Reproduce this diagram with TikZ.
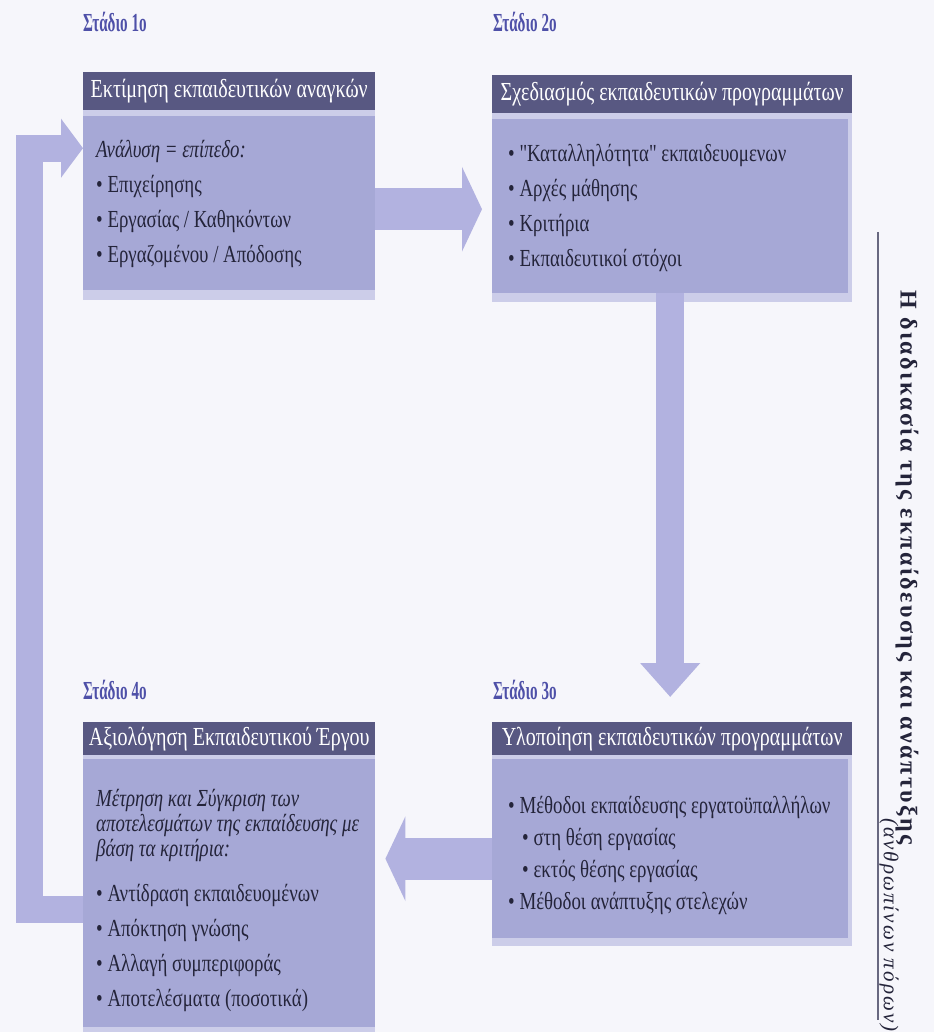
\documentclass[tikz,border=0pt]{standalone}
\usepackage{fontspec}
\setmainfont{Liberation Serif}[FakeStretch=0.77]
\newfontfamily\stagefont{Liberation Serif}[FakeStretch=0.58]
\newfontfamily\sidefont{Liberation Serif}[LetterSpace=10]
\usetikzlibrary{arrows.meta}

\definecolor{pagebg}{RGB}{246,246,251}
\definecolor{headfill}{RGB}{88,88,130}
\definecolor{bodyfill}{RGB}{166,168,214}
\definecolor{bodylow}{RGB}{204,205,233}
\definecolor{arrowfill}{RGB}{178,178,224}
\definecolor{stagecol}{RGB}{78,80,168}
\definecolor{textcol}{RGB}{36,36,58}
\definecolor{rulecol}{RGB}{104,104,128}

% straight double quote, without the TeX quote ligature
\newcommand{\straightquote}{{\addfontfeatures{Ligatures=TeXOff}"}}

\begin{document}
\begin{tikzpicture}[x=1pt,y=-1pt,
  stagelabel/.style={anchor=west, inner sep=0pt, text=stagecol,
    font=\stagefont\bfseries\fontsize{26}{26}\selectfont},
  headbox/.style={fill=headfill, text=white, anchor=north west, inner sep=0pt,
    font=\fontsize{26}{26}\selectfont},
  bodybox/.style={fill=bodyfill, anchor=north west, inner sep=0pt},
  bodytext/.style={anchor=north west, inner sep=0pt, text=textcol, align=left,
    font=\fontsize{24.5}{35}\selectfont},
  blockarrow/.style={draw=arrowfill, line width=42pt,
    -{Triangle[length=20pt,width=84pt]}},
  downarrow/.style={draw=arrowfill, line width=28pt,
    -{Triangle[length=34pt,width=58pt]}},
  looparrow/.style={draw=arrowfill, line width=27pt, line join=miter,
    -{Triangle[length=22pt,width=58pt]}},
]
\useasboundingbox (0,0) rectangle (934,1032);
\fill[pagebg] (0,0) rectangle (934,1032);

% ---------- stage 1 ----------
\node[stagelabel] (s1) at (83,22) {Στάδιο 1ο};
\fill[bodylow] (83,72) rectangle (375,300);
\node[headbox, minimum width=292pt, minimum height=38pt] (h1) at (83,72)
  {Εκτίμηση εκπαιδευτικών αναγκών};
\node[bodybox, minimum width=292pt, minimum height=174pt] (b1) at (83,116) {};
\node[bodytext] (t1) at (96,140)
  {\textit{Ανάλυση = επίπεδο:}\\
   • Επιχείρησης\\
   • Εργασίας / Καθηκόντων\\
   • Εργαζομένου / Απόδοσης};

% ---------- stage 2 ----------
\node[stagelabel] (s2) at (493,22) {Στάδιο 2ο};
\fill[bodylow] (492,75) rectangle (852,302);
\node[headbox, minimum width=360pt, minimum height=38pt] (h2) at (492,75)
  {Σχεδιασμός εκπαιδευτικών προγραμμάτων};
\node[bodybox, minimum width=356pt, minimum height=174pt] (b2) at (492,119) {};
\node[bodytext] (t2) at (508,144)
  {• \straightquote Καταλληλότητα\straightquote{} εκπαιδευομενων\\
   • Αρχές μάθησης\\
   • Κριτήρια\\
   • Εκπαιδευτικοί στόχοι};

% ---------- stage 3 ----------
\node[stagelabel] (s3) at (493,690) {Στάδιο 3ο};
\fill[bodylow] (492,722) rectangle (852,946);
\node[headbox, minimum width=360pt, minimum height=33pt] (h3) at (492,722)
  {Υλοποίηση εκπαιδευτικών προγραμμάτων};
\node[bodybox, minimum width=356pt, minimum height=179pt] (b3) at (492,759) {};
\node[bodytext, font=\fontsize{24.5}{32}\selectfont] (t3) at (508,796)
  {• Μέθοδοι εκπαίδευσης εργατοϋπαλλήλων\\
   \hspace*{14pt}• στη θέση εργασίας\\
   \hspace*{14pt}• εκτός θέσης εργασίας\\
   • Μέθοδοι ανάπτυξης στελεχών};

% ---------- stage 4 ----------
\node[stagelabel] (s4) at (83,690) {Στάδιο 4ο};
\fill[bodylow] (83,722) rectangle (375,1032);
\node[headbox, minimum width=292pt, minimum height=33pt] (h4) at (83,722)
  {Αξιολόγηση Εκπαιδευτικού Έργου};
\node[bodybox, minimum width=292pt, minimum height=268pt] (b4) at (83,759) {};
\node[bodytext, font=\fontsize{24.5}{25}\selectfont] (t4a) at (96,789)
  {\textit{Μέτρηση και Σύγκριση των}\\
   \textit{αποτελεσμάτων της εκπαίδευσης με}\\
   \textit{βάση τα κριτήρια:}};
\node[bodytext] (t4b) at (96,884)
  {• Αντίδραση εκπαιδευομένων\\
   • Απόκτηση γνώσης\\
   • Αλλαγή συμπεριφοράς\\
   • Αποτελέσματα (ποσοτικά)};

% ---------- flow arrows ----------
\draw[blockarrow, shorten >=10pt] ([yshift=-6pt]b1.east) -- ([yshift=-6pt]b1.east -| b2.west);
\draw[downarrow, shorten >=25pt] (b2.south) -- (b2.south |- h3.north);
\draw[blockarrow, shorten >=10pt] ([yshift=-10pt]b3.west) -- ([yshift=-10pt]b3.west -| b4.east);

% feedback loop from stage 4 back to stage 1
\coordinate (fbstart) at ([yshift=-16pt]b4.west);
\coordinate (fbend) at ([yshift=55pt]b1.west);
\coordinate (fbside) at (29,0);
\draw[looparrow] (fbstart) -- (fbstart -| fbside) -- (fbend -| fbside) -- (fbend);

% ---------- side title ----------
\coordinate (ruletop) at (878,232);
\coordinate (rulebot) at (878,1020);
\draw[rulecol, line width=2.5pt] (ruletop) -- (rulebot);
\node[rotate=-90, anchor=west, inner sep=0pt, text=textcol,
      font=\sidefont\bfseries\fontsize{24}{24}\selectfont] (title) at (907,290)
  {Η διαδικασία της εκπαίδευσης και ανάπτυξης};
\node[rotate=-90, anchor=west, inner sep=0pt, text=textcol,
      font=\sidefont\itshape\fontsize{21}{21}\selectfont] (subtitle) at (889,818)
  {(ανθρωπίνων πόρων)};
\end{tikzpicture}
\end{document}
